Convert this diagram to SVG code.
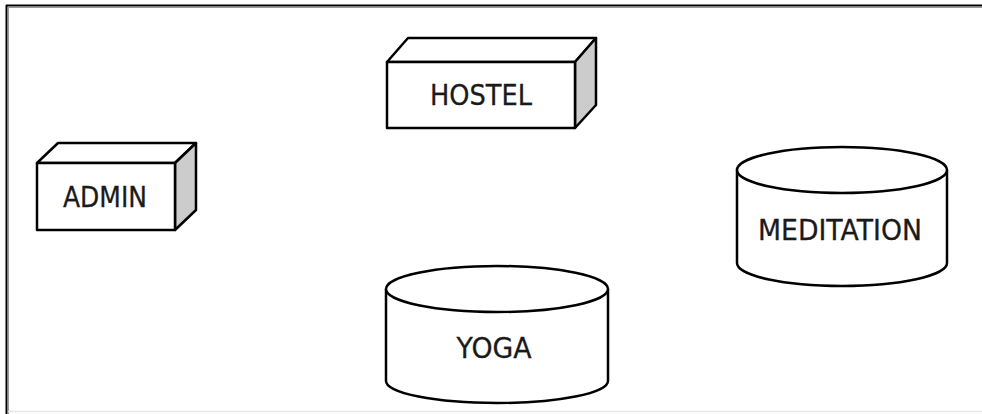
<svg xmlns="http://www.w3.org/2000/svg" width="982" height="414" viewBox="0 0 982 414">
<style>
.s{stroke:#000;stroke-width:2.5;stroke-linejoin:round;fill:#fff}
.side{fill:#cccccc}
.t{font-family:"DejaVu Sans","Liberation Sans",sans-serif;font-size:29px;fill:#1a1a1a;text-anchor:middle;stroke:#1a1a1a;stroke-width:0.3}
</style>
<rect x="0" y="0" width="982" height="414" fill="#fff"/>
<g id="frame">
<line x1="6" y1="5.5" x2="982" y2="5.5" stroke="#000" stroke-width="2"/>
<line x1="8" y1="7.5" x2="982" y2="7.5" stroke="#999" stroke-width="1"/>
<line x1="6.5" y1="5" x2="6.5" y2="414" stroke="#000" stroke-width="2"/>
<line x1="8.5" y1="7" x2="8.5" y2="414" stroke="#999" stroke-width="1"/>
<line x1="8" y1="411.5" x2="982" y2="411.5" stroke="#e6e6e6" stroke-width="1.5"/>
</g>
<g id="connectors"></g>
<g id="hostel">
<polygon class="s" points="387,62 408,38 596,38 575,62"/>
<polygon class="s side" points="575,62 596,38 596,105 575,128"/>
<rect class="s" x="387" y="62" width="188" height="66"/>
<text class="t" x="481" y="105" textLength="102" lengthAdjust="spacingAndGlyphs">HOSTEL</text>
</g>
<g id="admin">
<polygon class="s" points="37,163 58,143 196,143 175,163"/>
<polygon class="s side" points="175,163 196,143 196,210 175,230"/>
<rect class="s" x="37" y="163" width="138" height="67"/>
<text class="t" x="105" y="207" textLength="84" lengthAdjust="spacingAndGlyphs">ADMIN</text>
</g>
<g id="meditation">
<path class="s" d="M737,170 L737,263 A105,23 0 0 0 947,263 L947,170"/>
<ellipse class="s" cx="842" cy="170" rx="105" ry="23"/>
<text class="t" x="840" y="240" textLength="164" lengthAdjust="spacingAndGlyphs">MEDITATION</text>
</g>
<g id="yoga">
<path class="s" d="M386,289 L386,381 A111,22 0 0 0 608,381 L608,289"/>
<ellipse class="s" cx="497" cy="289" rx="111" ry="23"/>
<text class="t" x="494" y="358" textLength="75" lengthAdjust="spacingAndGlyphs">YOGA</text>
</g>
</svg>
